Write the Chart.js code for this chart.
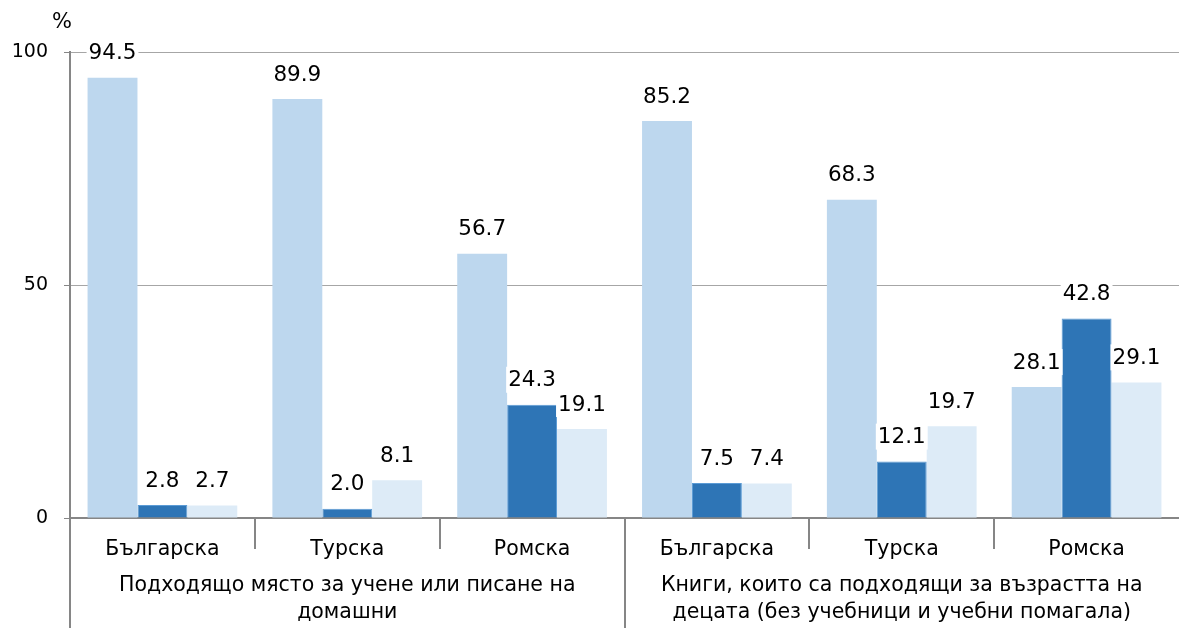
<!DOCTYPE html>
<html>
<head>
<meta charset="utf-8">
<script src="https://cdn.jsdelivr.net/npm/chart.js@4/dist/chart.umd.min.js"></script>
<style>
  html, body { margin: 0; padding: 0; background: #fff; }
  #wrap { width: 1179px; height: 628px; position: relative; }
</style>
</head>
<body>
<div id="wrap"><canvas id="c" width="1179" height="628"></canvas></div>
<script>
// ---- data ----
const categories = ['Българска', 'Турска', 'Ромска', 'Българска', 'Турска', 'Ромска'];
const groupLabels = [
  ['Подходящо място за учене или писане на', 'домашни'],
  ['Книги, които са подходящи за възрастта на', 'децата (без учебници и учебни помагала)']
];
const groupSizes = [3, 3];
const seriesNames = ['Серия 1', 'Серия 2', 'Серия 3'];
const series1 = [94.5, 89.9, 56.7, 85.2, 68.3, 28.1];
const series2 = [2.8, 2.0, 24.3, 7.5, 12.1, 42.8];
const series3 = [2.7, 8.1, 19.1, 7.4, 19.7, 29.1];
const yTicks = [0, 50, 100];
const unitLabel = '%';

const FONT = '"DejaVu Sans", Verdana, sans-serif';
const FS = 20.5;
const FS_Y = 19;
const FS_LBL = 21.5;
const AXIS = '#868686';
const GRID = '#A6A6A6';

const overlay = {
  id: 'overlay',
  afterDatasetsDraw(chart) {
    const ctx = chart.ctx;
    ctx.save();
    ctx.font = FS_LBL + 'px ' + FONT;
    ctx.textAlign = 'center';
    ctx.textBaseline = 'middle';
    chart.data.datasets.forEach((ds, di) => {
      const meta = chart.getDatasetMeta(di);
      meta.data.forEach((bar, i) => {
        const txt = ds.data[i].toFixed(1);
        const w = ctx.measureText(txt).width;
        const cy = bar.y - 25;
        ctx.fillStyle = '#fff';
        ctx.fillRect(bar.x - w / 2 - 2, cy - 13, w + 4, 26);
        ctx.fillStyle = '#000';
        ctx.fillText(txt, bar.x, cy + 1);
      });
    });
    ctx.restore();
  },
  afterDraw(chart) {
    const ctx = chart.ctx;
    const area = chart.chartArea;
    const H = chart.height;
    ctx.save();
    ctx.strokeStyle = AXIS;
    ctx.lineWidth = 2;
    ctx.beginPath();
    ctx.moveTo(area.left, area.bottom);
    ctx.lineTo(area.left, H);
    ctx.stroke();
    const n = categories.length;
    const step = (area.right - area.left) / n;
    let groupEnds = [];
    let acc = 0;
    groupSizes.forEach(s => { acc += s; groupEnds.push(acc); });
    for (let i = 1; i < n; i++) {
      const x = Math.round(area.left + i * step);
      const isGroup = groupEnds.includes(i);
      ctx.beginPath();
      ctx.moveTo(x, area.bottom);
      ctx.lineTo(x, isGroup ? H : area.bottom + 31);
      ctx.stroke();
    }
    ctx.fillStyle = '#000';
    ctx.font = FS + 'px ' + FONT;
    ctx.textAlign = 'center';
    ctx.textBaseline = 'middle';
    let start = 0;
    groupSizes.forEach((s, g) => {
      const x0 = area.left + start * step;
      const x1 = area.left + (start + s) * step;
      const cx = (x0 + x1) / 2;
      groupLabels[g].forEach((line, li) => {
        ctx.fillText(line, cx, area.bottom + 68 + li * 27);
      });
      start += s;
    });
    ctx.font = '21px ' + FONT;
    ctx.fillText(unitLabel, 62, 23);
    ctx.restore();
  }
};

new Chart(document.getElementById('c'), {
  type: 'bar',
  data: {
    labels: categories,
    datasets: [
      { label: seriesNames[0], data: series1, backgroundColor: '#BDD7EE', borderWidth: 0 },
      { label: seriesNames[1], data: series2, backgroundColor: '#2E75B6', borderColor: '#5B9BD5', borderWidth: 1 },
      { label: seriesNames[2], data: series3, backgroundColor: '#DDEBF7', borderWidth: 0 }
    ]
  },
  options: {
    responsive: false,
    devicePixelRatio: 1,
    animation: false,
    layout: { padding: { top: 52, left: 0, right: 0, bottom: 0 } },
    plugins: { legend: { display: false }, tooltip: { enabled: false } },
    datasets: { bar: { categoryPercentage: 0.81, barPercentage: 1.0 } },
    scales: {
      x: {
        grid: { display: false, drawTicks: false },
        border: { display: true, color: AXIS, width: 2 },
        ticks: { color: '#000', font: { family: FONT, size: FS }, padding: 19, maxRotation: 0, autoSkip: false },
        afterFit(scale) { scale.height = 110; }
      },
      y: {
        min: 0, max: 100,
        afterBuildTicks(scale) { scale.ticks = yTicks.map(v => ({ value: v })); },
        grid: {
          color: (c) => (c.tick && c.tick.value === 0) ? 'rgba(0,0,0,0)' : GRID,
          tickColor: AXIS,
          tickLength: 6,
          lineWidth: 1
        },
        border: { display: true, color: AXIS, width: 2 },
        ticks: { color: '#000', font: { family: FONT, size: FS_Y }, padding: 16 },
        afterFit(scale) { scale.width = 70; }
      }
    }
  },
  plugins: [overlay]
});
</script>
</body>
</html>
